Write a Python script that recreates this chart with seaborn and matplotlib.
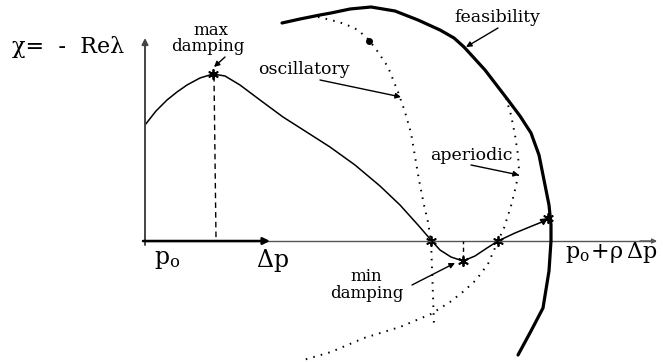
import matplotlib
matplotlib.use("Agg")
import matplotlib.pyplot as plt
import seaborn as sns

sns.set_theme(style="white")
plt.rcParams["font.family"] = ["DejaVu Serif"]
plt.rcParams["mathtext.fontset"] = "dejavuserif"
plt.rcParams["text.color"] = "black"

# --- sketch geometry (canvas units, y grows downward) ---
# damping curve alpha = -Re(lambda) along the path p0 -> p0 + rho*dp
damp_x = [145, 156, 167, 177, 187, 200, 213, 225, 240, 260, 283, 305, 330, 355,
          380, 400, 418, 431, 440, 451, 463, 475, 487, 498, 515, 532, 542]
damp_y = [125, 111, 100, 92, 85, 78, 74, 76, 85, 100, 117, 131, 147, 165,
          186, 205, 225, 240, 250, 257, 261, 256, 248, 241, 233, 226, 222]

# feasibility boundary
feas_x = [282, 300, 320, 331, 350, 371, 395, 418, 440, 454, 464, 485, 508, 520,
          531, 539, 544, 549, 551, 551, 549, 543, 531, 518]
feas_y = [23, 19, 15, 13, 9, 7, 11, 20, 30, 38, 47, 70, 100, 116,
          133, 155, 180, 205, 225, 241, 271, 308, 331, 355]

# oscillatory boundary
osc_x = [318, 331, 345, 358, 369, 378, 388, 398, 405, 411, 419, 424, 428, 431, 432, 433, 434]
osc_y = [17, 20, 24, 30, 40, 52, 67, 92, 112, 133, 180, 205, 222, 241, 268, 296, 326]

# aperiodic boundary
aper_x = [506, 511, 515, 518, 519, 516, 511, 504, 498, 488, 476, 464, 450, 431, 400, 364, 331, 300]
aper_y = [98, 115, 135, 155, 170, 186, 206, 228, 241, 264, 280, 291, 302, 314, 327, 338, 352, 361]

# special points on the damping curve
star_x = [213, 431, 463, 498, 548]
star_y = [74, 241, 261, 241, 218]

fig = plt.figure(figsize=(6.63, 3.62), dpi=100)
ax = fig.add_axes([0, 0, 1, 1])
ax.set_xlim(0, 663)
ax.set_ylim(362, 0)
ax.axis("off")

line_kw = dict(sort=False, estimator=None, errorbar=None, ax=ax, color="black")

# coordinate axes
ax.annotate("", xy=(145, 38), xytext=(145, 245),
            arrowprops=dict(arrowstyle="-|>", color="#444444", lw=1.4,
                            mutation_scale=9, shrinkA=0, shrinkB=0))
ax.plot([143, 655], [241, 241], color="#555555", lw=1.0)
ax.annotate("", xy=(270, 241), xytext=(143, 241),
            arrowprops=dict(arrowstyle="-|>", color="black", lw=1.8,
                            mutation_scale=10, shrinkA=0, shrinkB=0))
ax.annotate("", xy=(657, 241), xytext=(640, 241),
            arrowprops=dict(arrowstyle="-|>", color="#555555", lw=1.0,
                            mutation_scale=7, shrinkA=0, shrinkB=0))

# boundaries
sns.lineplot(x=feas_x, y=feas_y, lw=2.3, **line_kw)
sns.lineplot(x=osc_x, y=osc_y, lw=1.4, linestyle=(0, (0.8, 3.2)), **line_kw)
sns.lineplot(x=aper_x, y=aper_y, lw=1.4, linestyle=(0, (0.8, 3.2)), **line_kw)

# damping curve
sns.lineplot(x=damp_x, y=damp_y, lw=1.1, **line_kw)
ax.annotate("", xy=(star_x[4], star_y[4]), xytext=(damp_x[-1], damp_y[-1]),
            arrowprops=dict(arrowstyle="-|>", color="black", lw=1.1,
                            mutation_scale=10, shrinkA=0, shrinkB=0))

# drop lines to the p-axis
ax.plot([star_x[0] + 1, 216], [star_y[0] + 2, 238], color="black", lw=1.0,
        linestyle=(0, (4, 3)))
ax.plot([star_x[2], star_x[2]], [star_y[2] - 2, 241], color="black", lw=1.0,
        linestyle=(0, (3, 2.5)))

sns.scatterplot(x=star_x, y=star_y, ax=ax, marker=(6, 2, 0), s=45,
                color="black", linewidth=1.3, edgecolor="black")
ax.plot([369], [41], marker="o", ms=4, color="black")

# labels
fs = 12
ax.text(12, 53, "χ=  -  Reλ", fontsize=16, va="baseline", ha="left")
ax.text(211, 35, "max", fontsize=fs, va="baseline", ha="center")
ax.text(208, 51, "damping", fontsize=fs, va="baseline", ha="center")
ax.text(258, 74, "oscillatory", fontsize=fs + 0.5, va="baseline", ha="left")
ax.text(497, 22, "feasibility", fontsize=fs + 0.5, va="baseline", ha="center")
ax.text(471, 160, "aperiodic", fontsize=fs + 0.5, va="baseline", ha="center")
ax.text(366, 281, "min", fontsize=fs, va="baseline", ha="center")
ax.text(367, 298, "damping", fontsize=fs, va="baseline", ha="center")
ax.text(154, 264, r"$\mathregular{p_o}$", fontsize=17, va="baseline", ha="left")
ax.text(256, 267, r"$\mathregular{\Delta p}$", fontsize=17, va="baseline", ha="left")
ax.text(565, 258, r"$\mathregular{p_o\!+\!\rho\,\Delta p}$", fontsize=16,
        va="baseline", ha="left")

# pointer arrows
arrow_kw = dict(arrowstyle="-|>", color="black", lw=1.0, mutation_scale=8,
                shrinkA=0, shrinkB=0)
ax.annotate("", xy=(214, 67), xytext=(225, 57), arrowprops=arrow_kw)
ax.annotate("", xy=(401, 97), xytext=(320, 80), arrowprops=arrow_kw)
ax.annotate("", xy=(466, 47), xytext=(498, 28), arrowprops=arrow_kw)
ax.annotate("", xy=(519, 175), xytext=(471, 165), arrowprops=arrow_kw)
ax.annotate("", xy=(455, 263), xytext=(412, 285), arrowprops=arrow_kw)

fig.savefig("out.png", dpi=100, facecolor="white")
